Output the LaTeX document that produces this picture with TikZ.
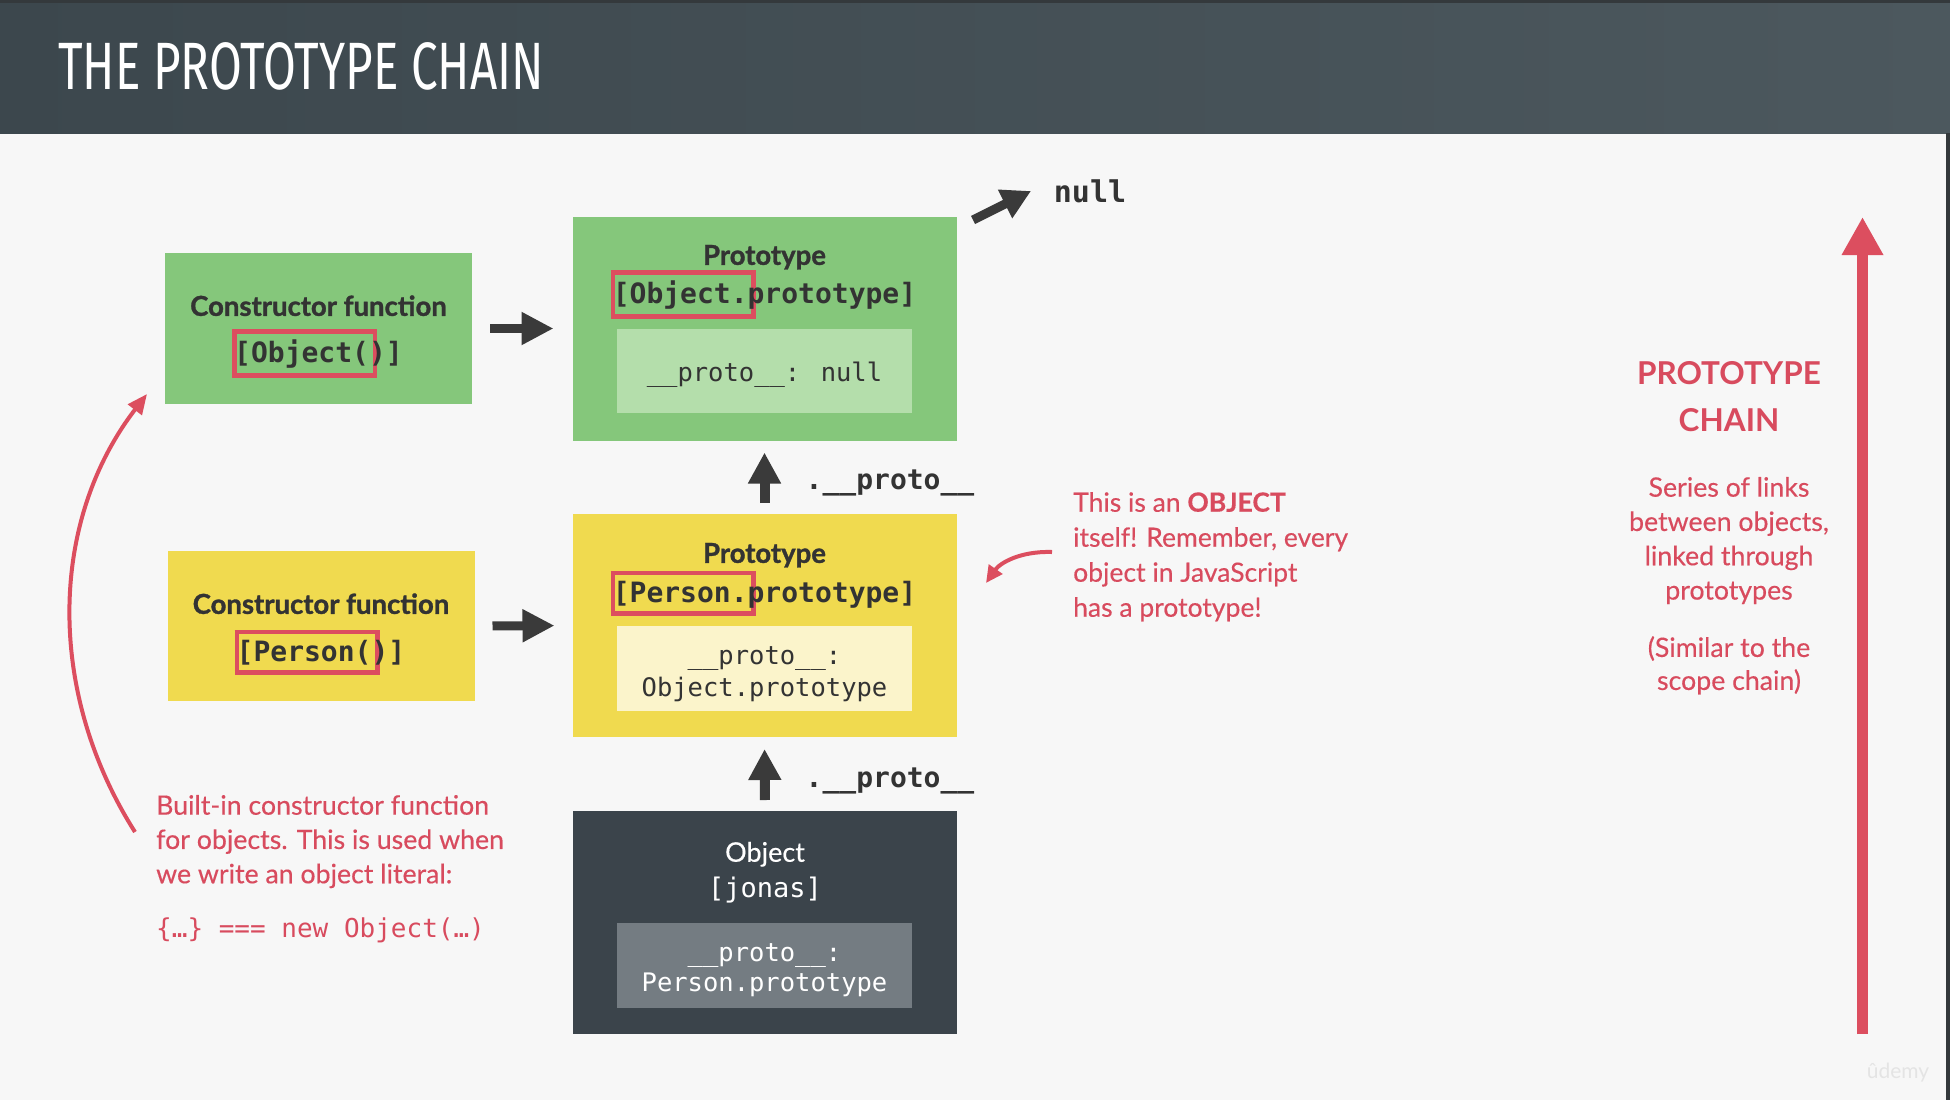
\documentclass[tikz,border=0pt]{standalone}
\usepackage{fontspec}
\setmainfont{Lato}
\newfontfamily\headfont[FakeBold=1.2]{Lato}
\newfontfamily\notefont[FakeBold=0.35]{Lato}
\newfontfamily\monofont{DejaVu Sans Mono}
\newfontfamily\titlefont[FakeStretch=0.71]{Fira Sans}
\usetikzlibrary{arrows.meta,calc}

\definecolor{pagebg}{HTML}{F7F7F7}
\definecolor{headl}{HTML}{3C474D}
\definecolor{headr}{HTML}{4C585E}
\definecolor{headedge}{HTML}{34393C}
\definecolor{objgreen}{HTML}{85C77B}
\definecolor{objgreenlt}{HTML}{B4DEAB}
\definecolor{persyellow}{HTML}{F0DA4F}
\definecolor{persyellowlt}{HTML}{FBF4CB}
\definecolor{instdark}{HTML}{3B444B}
\definecolor{instgray}{HTML}{747C82}
\definecolor{accent}{HTML}{DC4E5F}
\definecolor{notered}{HTML}{D84B5E}
\definecolor{ink}{HTML}{333333}
\definecolor{arrowink}{HTML}{3A3A3A}
\definecolor{wmark}{HTML}{E4E4E4}

% red frame around the leading part of a code line, taking no width
\newcommand\redmark[1]{%
  \rlap{\kern-2bp\textcolor{accent}{\setlength\fboxrule{4.5bp}\setlength\fboxsep{5.5bp}%
    \fbox{\kern-8bp\phantom{#1}\kern-2bp}}}#1}

\tikzset{
  panel/.style 2 args={inner sep=0pt, outer sep=0pt, minimum width=#1, minimum height=#2},
  boxhead/.style={font=\headfont\bfseries\fontsize{27.5bp}{32bp}\selectfont, text=ink,
    inner sep=0pt, text height=19.7bp, text depth=0pt},
  codebold/.style={font=\monofont\bfseries\fontsize{28bp}{34bp}\selectfont, text=ink,
    inner sep=0pt, text height=20bp, text depth=0pt},
  codereg/.style={font=\monofont\fontsize{25.5bp}{32bp}\selectfont, text=ink,
    inner sep=0pt, text height=18.5bp, text depth=0pt},
  note/.style={font=\notefont\fontsize{26.7bp}{34.3bp}\selectfont, text=notered, inner sep=0pt},
  notecode/.style={font=\monofont\fontsize{26bp}{32bp}\selectfont, text=notered,
    inner sep=0pt, text height=19bp, text depth=0pt},
  linkarrow/.style={draw=arrowink, line width=9bp, -{Triangle[length=32bp,width=31bp]}},
  protoarrow/.style={draw=arrowink, line width=10bp, -{Triangle[length=31bp,width=31bp]}},
  redcurve/.style={draw=accent, line width=4bp},
}

\begin{document}
\begin{tikzpicture}[x=1bp,y=-1bp]
\useasboundingbox (0,0) rectangle (1950,1100);
\fill[pagebg] (0,0) rectangle (1950,1100);

% header bar
\shade[left color=headl, right color=headr] (0,0) rectangle (1950,133);
\fill[headedge] (0,0) rectangle (1950,3);
\fill[headedge] (1946,133) rectangle (1950,1100);
\node[font=\titlefont\fontsize{67bp}{70bp}\selectfont, text=white, inner sep=0pt,
      text height=46bp, text depth=0pt, anchor=west] (title) at (58,66) {THE PROTOTYPE CHAIN};

% Object constructor and Object.prototype
\node[panel={307bp}{151bp}, fill=objgreen] (objctor) at (318.5,328.5) {};
\node[boxhead] (objctorhead) at (318.5,306) {Constructor function};
\node[codebold] (objctorcode) at (318.5,352) {\redmark{[Object(})]};

\node[panel={384bp}{224bp}, fill=objgreen] (objproto) at (764.5,328.5) {};
\node[boxhead] (objprotohead) at (764.5,255) {Prototype};
\node[codebold] (objprotocode) at (764.5,293) {\redmark{[Object.}prototype]};
\node[panel={295bp}{84bp}, fill=objgreenlt] (objprotoin) at (764.5,371) {};
\node[codereg] (objprotolink) at (764.5,372) {\_\_proto\_\_: null};

% Person constructor and Person.prototype
\node[panel={307bp}{150bp}, fill=persyellow] (perctor) at (321,626) {};
\node[boxhead] (perctorhead) at (321,604) {Constructor function};
\node[codebold] (perctorcode) at (321,651) {\redmark{[Person(})]};

\node[panel={384bp}{223bp}, fill=persyellow] (perproto) at (764.5,625.5) {};
\node[boxhead] (perprotohead) at (764.5,553) {Prototype};
\node[codebold] (perprotocode) at (764.5,592) {\redmark{[Person.}prototype]};
\node[panel={295bp}{85bp}, fill=persyellowlt] (perprotoin) at (764.5,668.5) {};
\node[codereg] (perprotolinka) at (764.5,655) {\_\_proto\_\_:};
\node[codereg] (perprotolinkb) at (764.5,687) {Object.prototype};

% the instance
\node[panel={384bp}{223bp}, fill=instdark] (jonas) at (765,922.5) {};
\node[font=\notefont\fontsize{27bp}{32bp}\selectfont, text=white, inner sep=0pt,
      text height=19.5bp, text depth=0pt] (jonashead) at (765,852) {Object};
\node[codereg, font=\monofont\fontsize{27bp}{32bp}\selectfont, text=white,
      text height=19.5bp] (jonasname) at (765,888) {[jonas]};
\node[panel={295bp}{85bp}, fill=instgray] (jonasin) at (764.5,965.5) {};
\node[codereg, text=white] (jonaslinka) at (764.5,952) {\_\_proto\_\_:};
\node[codereg, text=white] (jonaslinkb) at (764.5,982) {Person.prototype};

% constructor -> prototype links
\draw[linkarrow, shorten <=18bp, shorten >=19bp] (objctor.east) -- (objproto.west);
\draw[linkarrow, shorten <=18bp, shorten >=18bp] (perctor.east) -- (perproto.west);

% __proto__ links
\draw[protoarrow, shorten <=11bp, shorten >=12bp] (perproto.north) -- (objproto.south);
\node[codebold] (protolinkup) at (890,479) {.\_\_proto\_\_};
\draw[protoarrow, shorten <=11bp, shorten >=12bp] (jonas.north) -- (perproto.south);
\node[codebold] (protolinklow) at (890,777) {.\_\_proto\_\_};

% end of the chain
\node[codebold, font=\monofont\bfseries\fontsize{30bp}{34bp}\selectfont, text height=21bp]
      (null) at (1090,192) {null};
\coordinate (nullsrc) at (973,220);
\coordinate (nulltip) at (1031,191);
\draw[draw=arrowink, line width=9bp, -{Triangle[length=29bp,width=30bp]}] (nullsrc) -- (nulltip);

% notes
\node[note, align=left, anchor=north west] (builtin) at (156,794.8)
  {Built-in constructor function\\for objects. This is used when\\we write an object literal:};
\node[notecode, anchor=west] (literal) at (156,928) {\{…\} === new Object(…)};
\coordinate (builtinsrc) at (135,832);
\coordinate (builtintip) at (147,394);
\draw[redcurve, -{Triangle[length=20bp,width=17bp]}]
  (builtinsrc) .. controls (45,690) and (50,520) .. (builtintip);

\node[note, font=\notefont\fontsize{26.5bp}{35bp}\selectfont, align=left, anchor=north west]
  (isobject) at (1073,492)
  {This is an \textbf{OBJECT}\\itself! Remember, every\\object in JavaScript\\has a prototype!};
\coordinate (isobjectsrc) at (1052,552);
\coordinate (isobjecttip) at (986,583);
\draw[redcurve, -{Triangle[length=17bp,width=16bp]}]
  (isobjectsrc) .. controls (1020,551) and (1000,563) .. (isobjecttip);

% prototype chain legend
\node[font=\fontsize{31.5bp}{47bp}\selectfont\bfseries, text=notered, align=center,
      anchor=north, inner sep=0pt] (chainhead) at (1729,361.7) {PROTOTYPE\\CHAIN};
\node[note, align=center, anchor=north] (chaintext) at (1729,476.8)
  {Series of links\\between objects,\\linked through\\prototypes};
\node[note, font=\notefont\fontsize{26.7bp}{33bp}\selectfont, align=center, anchor=north]
  (chainnote) at (1729,636) {(Similar to the\\scope chain)};
\coordinate (chainlow) at (1862.5,1034);
\coordinate (chainhigh) at (1862.5,217);
\draw[draw=accent, line width=10.5bp, -{Triangle[length=38bp,width=39bp]}] (chainlow) -- (chainhigh);

% watermark
\node[font=\fontsize{21bp}{24bp}\selectfont, text=wmark, inner sep=0pt] (wm) at (1898,1073) {ûdemy};
\end{tikzpicture}
\end{document}
